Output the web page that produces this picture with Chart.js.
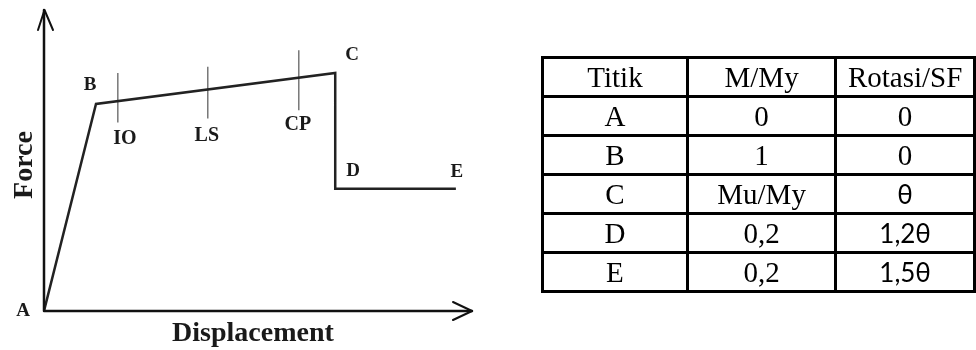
<!DOCTYPE html>
<html>
<head>
<meta charset="utf-8">
<script src="https://cdn.jsdelivr.net/npm/chart.js@4"></script>
<style>
  html, body { margin: 0; padding: 0; background: #fff; }
  #wrap { position: relative; width: 976px; height: 350px; overflow: hidden; }
  #chartBox { position: absolute; left: 0; top: 0; width: 976px; height: 350px; }
  #tbl { position: absolute; left: 541px; top: 56px; border-collapse: collapse; }
  #tbl td {
    border: 3px solid #000; padding: 0; height: 36px; text-align: center;
    font-family: "Liberation Serif", "Times New Roman", serif; font-size: 29px; color: #000;
    line-height: 36px;
  }
  #tbl td.sans { font-family: Lato, "Open Sans", sans-serif; font-size: 26px; }
</style>
</head>
<body>
<div id="wrap">
  <div id="chartBox"><canvas id="chart"></canvas></div>
  <table id="tbl"></table>
</div>
<script>
// backbone curve A-B-C-D-E (displacement, force)
const pointNames = ['A', 'B', 'C', 'D', 'E'];
const dispValues = [0, 1, 5.6, 5.6, 7.92];
const forceValues = [0, 1, 1.15, 0.59, 0.59];

// performance level ticks
const levelNames = ['IO', 'LS', 'CP'];
const levelX = [1.42, 3.15, 4.9];
const levelLow = [0.91, 0.93, 0.97];
const levelHigh = [1.15, 1.18, 1.26];

const xMax = 8.23;
const yMax = 1.454;

// table
const tableHead = ['Titik', 'M/My', 'Rotasi/SF'];
const tableTitik = ['A', 'B', 'C', 'D', 'E'];
const tableMMy = ['0', '1', 'Mu/My', '0,2', '0,2'];
const tableRot = ['0', '0', 'θ', '1,2θ', '1,5θ'];

const colWidths = [146, 149, 139];
const tbl = document.getElementById('tbl');
function addRow(cells, sansCol) {
  const tr = document.createElement('tr');
  cells.forEach((c, i) => {
    const td = document.createElement('td');
    td.textContent = c;
    td.style.width = (colWidths[i] - 3) + 'px';
    if (i === sansCol) td.className = 'sans';
    tr.appendChild(td);
  });
  tbl.appendChild(tr);
}
addRow(tableHead, -1);
tableTitik.forEach((t, i) => addRow([t, tableMMy[i], tableRot[i]], tableRot[i].includes('θ') ? 2 : -1));

const serifBold = 'bold {s}px "Liberation Serif", "Times New Roman", serif';
const font = s => serifBold.replace('{s}', s);

// label offsets from the mark they belong to (px)
const pointOffsets = [[-21, 0], [-6, -19], [17, -18], [18, -18], [1, -17]];
const levelOffsets = [[7, 16], [-1, 17], [-1, 15]];

const sketchPlugin = {
  id: 'sketch',
  afterDatasetsDraw(chart) {
    const { ctx, chartArea: a, scales: { x, y } } = chart;
    ctx.save();
    ctx.strokeStyle = '#111';
    ctx.lineWidth = 2.5;
    ctx.lineCap = 'round';
    ctx.lineJoin = 'round';
    const x0 = x.getPixelForValue(0), y0 = y.getPixelForValue(0);
    // axes
    ctx.beginPath();
    ctx.moveTo(x0, y0); ctx.lineTo(x0, a.top);
    ctx.moveTo(x0, y0); ctx.lineTo(a.right, y0);
    ctx.stroke();
    // arrow heads
    ctx.lineWidth = 2;
    ctx.beginPath();
    ctx.moveTo(x0 - 6, a.top + 20); ctx.lineTo(x0 + 0.5, a.top); ctx.lineTo(x0 + 9, a.top + 20);
    ctx.moveTo(a.right - 19, y0 - 9); ctx.lineTo(a.right, y0); ctx.lineTo(a.right - 19, y0 + 9);
    ctx.stroke();

    ctx.fillStyle = '#1a1a1a';
    ctx.textAlign = 'center';
    ctx.textBaseline = 'middle';
    ctx.font = font(19);
    pointNames.forEach((n, i) => {
      const px = x.getPixelForValue(dispValues[i]) + pointOffsets[i][0];
      const py = y.getPixelForValue(forceValues[i]) + pointOffsets[i][1];
      ctx.fillText(n, px, py);
    });
    ctx.font = font(20);
    levelNames.forEach((n, i) => {
      const px = x.getPixelForValue(levelX[i]) + levelOffsets[i][0];
      const py = y.getPixelForValue(levelLow[i]) + levelOffsets[i][1];
      ctx.fillText(n, px, py);
    });
    // axis titles
    ctx.font = font(28);
    ctx.fillText('Displacement', 253, 334);
    ctx.save();
    ctx.translate(25, 165);
    ctx.rotate(-Math.PI / 2);
    ctx.fillText('Force', 0, 0);
    ctx.restore();
    ctx.restore();
  }
};

const datasets = [{
  data: dispValues.map((v, i) => ({ x: v, y: forceValues[i] })),
  borderColor: '#222',
  borderWidth: 2.5,
  pointRadius: 0,
  showLine: true,
  tension: 0
}];
levelNames.forEach((n, i) => {
  datasets.push({
    data: [{ x: levelX[i], y: levelLow[i] }, { x: levelX[i], y: levelHigh[i] }],
    borderColor: '#555',
    borderWidth: 1.2,
    pointRadius: 0,
    showLine: true
  });
});

new Chart(document.getElementById('chart'), {
  type: 'scatter',
  data: { datasets },
  options: {
    responsive: true,
    maintainAspectRatio: false,
    animation: false,
    layout: { padding: { left: 44, right: 504, top: 10, bottom: 39 } },
    plugins: { legend: { display: false }, tooltip: { enabled: false } },
    scales: {
      x: { type: 'linear', min: 0, max: xMax, display: false },
      y: { type: 'linear', min: 0, max: yMax, display: false }
    }
  },
  plugins: [sketchPlugin]
});
</script>
</body>
</html>
